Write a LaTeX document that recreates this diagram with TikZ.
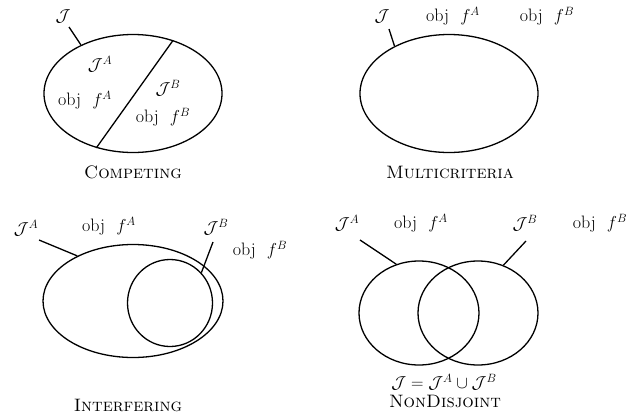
\documentclass[tikz,border=0pt]{standalone}
\usetikzlibrary{shapes.geometric}
\newcommand{\objf}[1]{obj\hspace{0.62em}$f^{#1}$}
\begin{document}
\begin{tikzpicture}[x=1pt,y=-1pt,
  lbl/.style={inner sep=0pt,font=\fontsize{18}{22}\selectfont},
  ell/.style={draw,ellipse,line width=1.3pt,inner sep=0pt},
  lead/.style={line width=1.3pt}]
\useasboundingbox (0,0) rectangle (627,418);
% Competing
\node[ell,minimum width=178pt,minimum height=118pt] (C) at (133,93.5) {};
\draw[lead] (C.53) -- (C.236);
\node[lbl] (CJ) at (63,16) {$\mathcal{J}$};
\coordinate (CJs) at (69,27);
\draw[lead] (CJs) -- (C.137);
\node[lbl] (CJA) at (100,64) {$\mathcal{J}^A$};
\node[lbl] (CfA) at (85,100) {\objf{A}};
\node[lbl] (CJB) at (168,88) {$\mathcal{J}^B$};
\node[lbl] (CfB) at (163,117) {\objf{B}};
\node[lbl] (Ct) at (133,172) {\textsc{Competing}};
% Multicriteria
\node[ell,minimum width=178pt,minimum height=118pt] (M) at (449,93.5) {};
\node[lbl] (MJ) at (382,16) {$\mathcal{J}$};
\coordinate (MJs) at (389,29);
\draw[lead] (MJs) -- (M.139);
\node[lbl] (MfA) at (453,16) {\objf{A}};
\node[lbl] (MfB) at (547,16) {\objf{B}};
\node[lbl] (Mt) at (450,172) {\textsc{Multicriteria}};
% Interfering
\node[ell,minimum width=180pt,minimum height=113pt] (I) at (133,301) {};
\node[ell,minimum width=85pt,minimum height=87pt] (Ii) at (170,303) {};
\node[lbl] (IJA) at (26,228) {$\mathcal{J}^A$};
\coordinate (IJAs) at (39,240);
\draw[lead] (IJAs) -- (I.141);
\node[lbl] (IfA) at (109,226) {\objf{A}};
\node[lbl] (IJB) at (216,227) {$\mathcal{J}^B$};
\coordinate (IJBs) at (213,242);
\draw[lead] (IJBs) -- (Ii.44);
\node[lbl] (IfB) at (260,250) {\objf{B}};
\node[lbl] (It) at (128,405) {\textsc{Interfering}};
% NonDisjoint
\node[ell,minimum width=120pt,minimum height=104pt] (NL) at (419,313) {};
\node[ell,minimum width=120pt,minimum height=104pt] (NR) at (478,313) {};
\node[lbl] (NJA) at (347,223) {$\mathcal{J}^A$};
\coordinate (NJAs) at (360,240);
\draw[lead] (NJAs) -- (NL.115);
\node[lbl] (NfA) at (421,223) {\objf{A}};
\node[lbl] (NJB) at (525,223) {$\mathcal{J}^B$};
\coordinate (NJBs) at (526,241);
\draw[lead] (NJBs) -- (NR.62);
\node[lbl] (NfB) at (600,223) {\objf{B}};
\node[lbl] (Nf) at (444,382) {$\mathcal{J}=\mathcal{J}^A\cup\mathcal{J}^B$};
\node[lbl] (Nt) at (445,401) {\textsc{NonDisjoint}};
\end{tikzpicture}
\end{document}
